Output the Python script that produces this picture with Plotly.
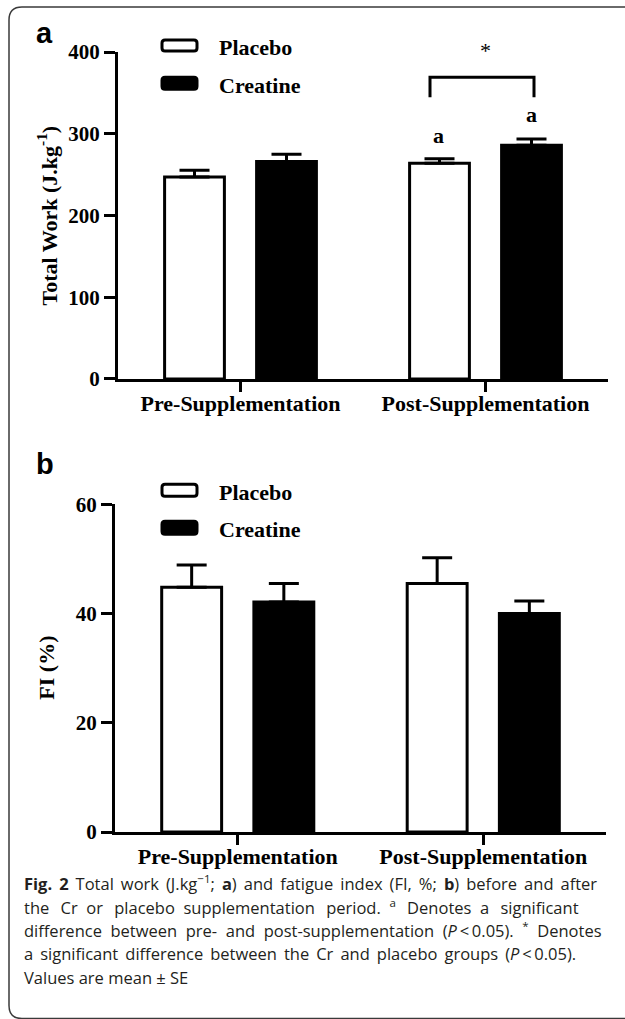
import plotly.graph_objects as go

# ---------------- data ----------------
categories = ["Pre-Supplementation", "Post-Supplementation"]
groups = ["Placebo", "Creatine"]

work_placebo = [247, 264]
work_placebo_se = [8.5, 5.5]
work_creatine = [266, 286]
work_creatine_se = [9, 7.5]

fi_placebo = [44.8, 45.5]
fi_placebo_se = [4.1, 4.7]
fi_creatine = [42.1, 40.0]
fi_creatine_se = [3.4, 2.3]

work_ticks = [0, 100, 200, 300, 400]
fi_ticks = [0, 20, 40, 60]

# ---------------- layout helpers ----------------
W, H = 625, 1019
# vertical calibration of the photographed page (screen = OFF + K * figure px)
OFF, K = 14.0, 0.974


def px(x):
    return x / W


def py(y):
    """screen pixel y (as seen in the photo) -> paper coordinate"""
    return 1 - ((y - OFF) / K) / H


SERIF = "Liberation Serif"
SANS = "Liberation Sans"
CAP = "Open Sans"

fig = go.Figure()

bar_line = dict(color="black", width=3)


def add_bars(xa, ya, plc, plc_se, cre, cre_se):
    fig.add_trace(go.Bar(
        x=categories, y=plc, name=groups[0], xaxis=xa, yaxis=ya,
        marker=dict(color="white", line=bar_line),
        error_y=dict(type="data", array=plc_se, arrayminus=[0] * len(plc_se),
                     symmetric=False, color="black", thickness=3, width=15),
        showlegend=False,
    ))
    fig.add_trace(go.Bar(
        x=categories, y=cre, name=groups[1], xaxis=xa, yaxis=ya,
        marker=dict(color="black", line=bar_line),
        error_y=dict(type="data", array=cre_se, arrayminus=[0] * len(cre_se),
                     symmetric=False, color="black", thickness=3, width=15),
        showlegend=False,
    ))


add_bars("x", "y", work_placebo, work_placebo_se, work_creatine, work_creatine_se)
add_bars("x2", "y2", fi_placebo, fi_placebo_se, fi_creatine, fi_creatine_se)

tickfont_y = dict(family=SERIF, size=21, color="black", weight="bold")
tickfont_x = dict(family=SERIF, size=22, color="black", weight="bold")

common_x = dict(type="category", range=[-0.5, 1.5], showline=True, linewidth=3,
                linecolor="black", ticks="outside", ticklen=10, tickwidth=3,
                tickcolor="black", tickfont=tickfont_x, showgrid=False,
                zeroline=False, fixedrange=True, ticklabelstandoff=-7)
common_y = dict(showline=True, linewidth=3, linecolor="black", ticks="outside",
                ticklen=11, tickwidth=3, tickcolor="black", tickfont=tickfont_y,
                showgrid=False, zeroline=False, fixedrange=True)

fig.update_layout(
    width=W, height=H,
    margin=dict(l=0, r=0, t=0, b=0),
    paper_bgcolor="white", plot_bgcolor="white",
    barmode="group", bargap=0.249, bargroupgap=0.35,
    showlegend=False,
    xaxis=dict(domain=[px(118), px(608)], anchor="y", **common_x),
    yaxis=dict(domain=[py(380), py(54)], anchor="x", range=[0, 400],
               tickvals=work_ticks, **common_y),
    xaxis2=dict(domain=[px(115), px(606)], anchor="y2", **common_x),
    yaxis2=dict(domain=[py(832), py(505)], anchor="x2", range=[0, 60],
                tickvals=fi_ticks, **common_y),
)

shapes = []
annotations = []

# outer rounded frame
x0, y0, x1, y1, r = 9, 9, 660, 1018, 13
path = (f"M {px(x1)},{py(y0)} L {px(x0 + r)},{py(y0)} "
        f"Q {px(x0)},{py(y0)} {px(x0)},{py(y0 + r)} "
        f"L {px(x0)},{py(y1 - r)} Q {px(x0)},{py(y1)} {px(x0 + r)},{py(y1)} "
        f"L {px(x1)},{py(y1)}")
shapes.append(dict(type="path", xref="paper", yref="paper", path=path,
                   line=dict(color="#3a3a3a", width=1.5)))


def rounded_box(xa, ya, xb, yb, fill, rr=3):
    p = (f"M {px(xa + rr)},{py(ya)} L {px(xb - rr)},{py(ya)} "
         f"Q {px(xb)},{py(ya)} {px(xb)},{py(ya + rr)} "
         f"L {px(xb)},{py(yb - rr)} Q {px(xb)},{py(yb)} {px(xb - rr)},{py(yb)} "
         f"L {px(xa + rr)},{py(yb)} Q {px(xa)},{py(yb)} {px(xa)},{py(yb - rr)} "
         f"L {px(xa)},{py(ya + rr)} Q {px(xa)},{py(ya)} {px(xa + rr)},{py(ya)} Z")
    return dict(type="path", xref="paper", yref="paper", path=p,
                fillcolor=fill, line=dict(color="black", width=3))


def label(x, y, text, font, xanchor="center", yanchor="middle", **kw):
    annotations.append(dict(x=px(x), y=py(y), xref="paper", yref="paper",
                            text=text, showarrow=False, xanchor=xanchor,
                            yanchor=yanchor, font=font, **kw))


legend_font = dict(family=SERIF, size=22, color="black", weight="bold")

# legends (panel a and b)
for (yp_, yc_) in [((42, 53), (79, 91)), ((485, 497), (522, 535))]:
    shapes.append(rounded_box(162, yp_[0], 197, yp_[1], "white"))
    shapes.append(rounded_box(162, yc_[0], 197, yc_[1], "black"))
    label(217, (yp_[0] + yp_[1]) / 2 + 2, groups[0], legend_font, xanchor="left")
    label(217, (yc_[0] + yc_[1]) / 2 + 2, groups[1], legend_font, xanchor="left")

# significance bracket
shapes.append(dict(type="path", xref="paper", yref="paper",
                   path=f"M {px(430)},{py(99)} L {px(430)},{py(79)} "
                        f"L {px(534)},{py(79)} L {px(534)},{py(99)}",
                   line=dict(color="black", width=3)))
label(485, 52, "*", dict(family=SERIF, size=22, color="black"))
sig_font = dict(family=SERIF, size=22, color="black", weight="bold")
label(438, 137, "a", sig_font)
label(531, 116, "a", sig_font)

# panel letters
letter_font = dict(family=SANS, size=29, color="black", weight="bold")
label(44, 35, "a", letter_font)
label(45, 465, "b", letter_font)

# axis titles
title_font = dict(family=SERIF, size=22, color="black", weight="bold")
label(47, 217, "Total Work (J.kg<sup>-1</sup>)", title_font, textangle=-90)
label(47, 668, "FI (%)", title_font, textangle=-90)

# caption (extra spacing imitates the justified lines of the original)
NB = "\u00a0"
TS = "\u2009"


def spread(text, extras):
    parts = text.split(" ")
    out = parts[0]
    for k, p in enumerate(parts[1:]):
        out += " " + extras[k % len(extras)] + p
    return out


caption_lines = [
    spread("<b>Fig. 2</b> Total work (J.kg<sup>\u22121</sup>; <b>a</b>) and fatigue index "
           "(FI, %; <b>b</b>) before and after", [TS]),
    spread("the Cr or placebo supplementation period. <sup>a</sup> Denotes a significant",
           [NB + TS, NB]),
    spread("difference between pre- and post-supplementation (<i>P</i>\u2009<\u20090.05). "
           "<sup>*</sup> Denotes", [NB]),
    spread("a significant difference between the Cr and placebo groups "
           "(<i>P</i>\u2009<\u20090.05).", [TS]),
    "Values are mean \u00b1 SE",
]
cap_font = dict(family=CAP, size=16.5, color="#231f20")
for i, line in enumerate(caption_lines):
    label(22, 883 + 23.5 * i, line, cap_font, xanchor="left")

fig.update_layout(shapes=shapes, annotations=annotations)

fig.write_html(
    "out.html",
    config={"displayModeBar": False},
    post_script="document.body.style.margin='0px';document.body.style.overflow='hidden';",
)
